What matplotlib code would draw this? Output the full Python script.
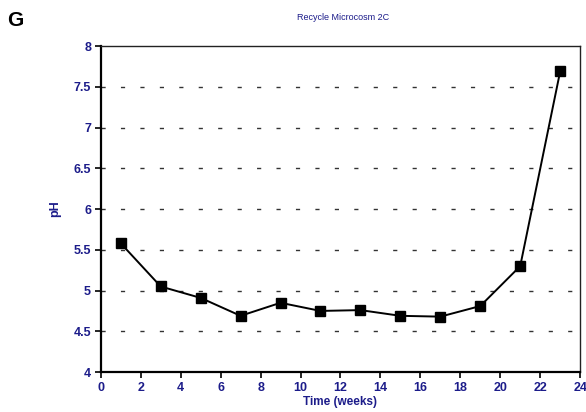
import matplotlib
matplotlib.use("Agg")
import matplotlib.pyplot as plt
import numpy as np

plt.rcParams['font.family'] = ['Liberation Sans', 'DejaVu Sans']

# pH readings for the recycle microcosm
weeks = [1, 3, 5, 7, 9, 11, 13, 15, 17, 19, 21, 23]
ph = [5.58, 5.05, 4.91, 4.69, 4.85, 4.75, 4.76, 4.69, 4.68, 4.81, 5.30, 7.69]

x_ticks = list(range(0, 25, 2))
y_ticks = [4, 4.5, 5, 5.5, 6, 6.5, 7, 7.5, 8]
y_labels = ['4', '4.5', '5', '5.5', '6', '6.5', '7', '7.5', '8']

navy = '#1c1c8a'

fig = plt.figure(figsize=(5.86, 4.12), dpi=100)
ax = fig.add_axes([0.172, 0.097, 0.818, 0.791])

# dashed horizontal grid, skipping the frame edges
for y in y_ticks[1:-1]:
    ax.axhline(y, color='#333333', lw=1.0, dashes=(3, 11), zorder=1)

ax.plot(weeks, ph, color='black', lw=1.4, marker='s', markersize=7,
        markerfacecolor='black', markeredgecolor='black', zorder=3)

ax.set_xlim(0, 24)
ax.set_ylim(4, 8)
ax.set_xticks(x_ticks)
ax.set_yticks(y_ticks)
ax.set_yticklabels(y_labels)

for side in ['left', 'bottom']:
    ax.spines[side].set_linewidth(1.6)
for side in ['top', 'right']:
    ax.spines[side].set_linewidth(1.0)
    ax.spines[side].set_color('#222222')

ax.tick_params(direction='out', length=4, width=1.2, color='black',
               labelsize=9, labelcolor=navy, pad=3)
for lbl in ax.get_xticklabels() + ax.get_yticklabels():
    lbl.set_fontweight('bold')

ax.set_xlabel('Time (weeks)', fontsize=8.5, fontweight='bold', color=navy, labelpad=1.5)
ax.set_ylabel('pH', fontsize=9, fontweight='bold', color=navy, labelpad=9)

fig.text(0.585, 0.958, 'Recycle Microcosm 2C', fontsize=6.5, color=navy,
         ha='center', va='center')
fig.text(0.012, 0.950, 'G', fontsize=15, fontweight='bold', color='black',
         ha='left', va='center')

fig.savefig('out.png', dpi=100)
